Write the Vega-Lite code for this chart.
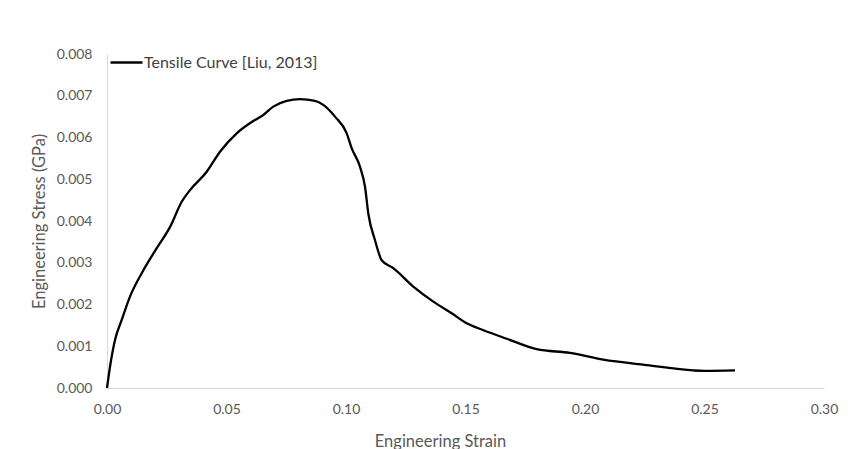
{
  "$schema": "https://vega.github.io/schema/vega-lite/v6.json",
  "autosize": {"type": "none"},
  "width": 717,
  "height": 334,
  "padding": {"left": 107, "top": 54, "right": 33, "bottom": 61},
  "background": "white",
  "config": {
    "view": {"stroke": null},
    "font": "Lato",
    "axis": {
      "grid": false,
      "ticks": false,
      "tickSize": 0,
      "labelFlush": false,
      "domainColor": "#d9d9d9",
      "domainWidth": 1,
      "labelFont": "Lato",
      "labelFontSize": 14,
      "labelColor": "#595959",
      "titleFont": "Lato",
      "titleFontSize": 16.5,
      "titleFontWeight": "normal",
      "titleColor": "#595959"
    }
  },
  "data": {
    "values": [
      {"strain": 0.0, "stress": 0.0},
      {"strain": 0.00126, "stress": 0.00051},
      {"strain": 0.00335, "stress": 0.00115},
      {"strain": 0.00615, "stress": 0.00163},
      {"strain": 0.00962, "stress": 0.00219},
      {"strain": 0.01452, "stress": 0.00275},
      {"strain": 0.0208, "stress": 0.00335},
      {"strain": 0.0264, "stress": 0.00386},
      {"strain": 0.03126, "stress": 0.00446},
      {"strain": 0.03473, "stress": 0.00474},
      {"strain": 0.04172, "stress": 0.00518},
      {"strain": 0.04728, "stress": 0.00566},
      {"strain": 0.05427, "stress": 0.0061},
      {"strain": 0.06192, "stress": 0.00642},
      {"strain": 0.0654, "stress": 0.00654},
      {"strain": 0.06958, "stress": 0.00674},
      {"strain": 0.07519, "stress": 0.00688},
      {"strain": 0.08075, "stress": 0.00692},
      {"strain": 0.08703, "stress": 0.00688},
      {"strain": 0.0905, "stress": 0.00678},
      {"strain": 0.0954, "stress": 0.0065},
      {"strain": 0.1003, "stress": 0.0061},
      {"strain": 0.1024, "stress": 0.00574},
      {"strain": 0.10586, "stress": 0.0053},
      {"strain": 0.10795, "stress": 0.00482},
      {"strain": 0.10933, "stress": 0.00418},
      {"strain": 0.11213, "stress": 0.00354},
      {"strain": 0.11494, "stress": 0.00306},
      {"strain": 0.11979, "stress": 0.00287},
      {"strain": 0.12816, "stress": 0.00243},
      {"strain": 0.13653, "stress": 0.00207},
      {"strain": 0.14423, "stress": 0.00179},
      {"strain": 0.1505, "stress": 0.00155},
      {"strain": 0.15726, "stress": 0.00139},
      {"strain": 0.16724, "stress": 0.00118},
      {"strain": 0.17979, "stress": 0.00093},
      {"strain": 0.19372, "stress": 0.00084},
      {"strain": 0.20766, "stress": 0.00068},
      {"strain": 0.22582, "stress": 0.00055},
      {"strain": 0.24531, "stress": 0.00042},
      {"strain": 0.25, "stress": 0.00041},
      {"strain": 0.26276, "stress": 0.00042}
    ]
  },
  "transform": [{"calculate": "'Tensile Curve [Liu, 2013]'", "as": "series"}],
  "mark": {"type": "line", "interpolate": "monotone", "strokeWidth": 2.3},
  "encoding": {
    "x": {
      "field": "strain",
      "type": "quantitative",
      "scale": {"domain": [0, 0.3], "nice": false, "zero": false},
      "axis": {
        "title": "Engineering Strain",
        "values": [0, 0.05, 0.1, 0.15, 0.2, 0.25, 0.3],
        "format": ".2f",
        "labelPadding": 14,
        "titlePadding": 17,
        "titleX": 333
      }
    },
    "y": {
      "field": "stress",
      "type": "quantitative",
      "scale": {"domain": [0, 0.008], "nice": false},
      "axis": {
        "title": "Engineering Stress (GPa)",
        "values": [0, 0.001, 0.002, 0.003, 0.004, 0.005, 0.006, 0.007, 0.008],
        "format": ".3f",
        "labelPadding": 15,
        "titlePadding": 9
      }
    },
    "color": {
      "field": "series",
      "type": "nominal",
      "scale": {"range": ["black"]},
      "legend": {
        "title": null,
        "orient": "none",
        "legendX": 2,
        "legendY": -9,
        "symbolType": "stroke",
        "symbolSize": 1024,
        "symbolStrokeWidth": 2.3,
        "labelFont": "Lato",
        "labelFontSize": 16,
        "labelColor": "#404040",
        "labelOffset": 0,
        "labelLimit": 0,
        "padding": 0
      }
    }
  }
}
